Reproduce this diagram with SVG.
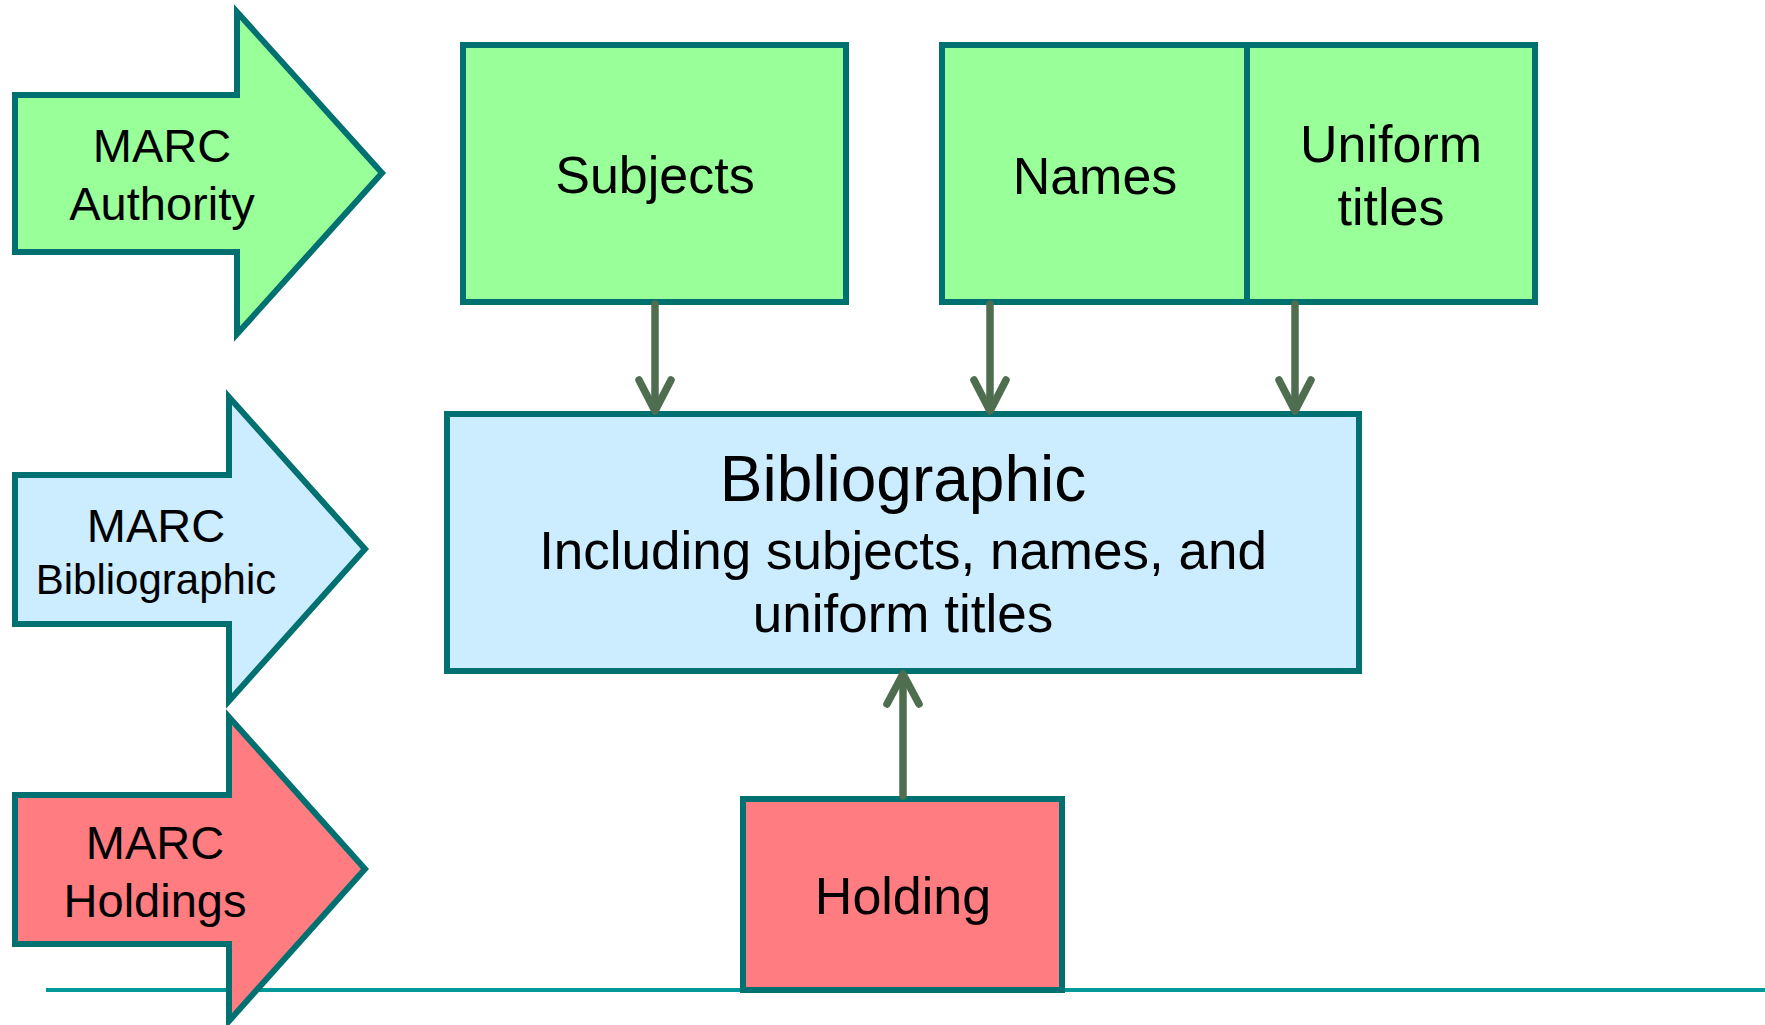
<svg xmlns="http://www.w3.org/2000/svg" width="1765" height="1025" viewBox="0 0 1765 1025">
<style>
.shape{stroke:#007070;stroke-width:6;stroke-linejoin:miter}
.green{fill:#99FF99}
.blue{fill:#CCECFF}
.red{fill:#FF7C80}
text{font-family:"Liberation Sans",Arial,sans-serif;fill:#000;text-anchor:middle}
.conn{stroke:#4F6E4F;stroke-width:7.5;fill:none;stroke-linecap:round;stroke-linejoin:round}
</style>
<rect x="0" y="0" width="1765" height="1025" fill="#FFFFFF"/>
<g id="baseline">
<line x1="46" y1="990" x2="1765" y2="990" stroke="#009999" stroke-width="4"/>
</g>
<g id="marc-authority">
<polygon class="shape green" points="15,95 237,95 237,12 382,173 237,334 237,252 15,252"/>
<text x="162" y="162" font-size="47">MARC</text>
<text x="162" y="220" font-size="47">Authority</text>
</g>
<g id="marc-bibliographic">
<polygon class="shape blue" points="15,475 229,475 229,397 365,549 229,701 229,624 15,624"/>
<text x="156" y="542" font-size="47">MARC</text>
<text x="156" y="594" font-size="42">Bibliographic</text>
</g>
<g id="marc-holdings">
<polygon class="shape red" points="15,795 229,795 229,717 365,869 229,1021 229,944 15,944"/>
<text x="155" y="859" font-size="47">MARC</text>
<text x="155" y="917" font-size="47">Holdings</text>
</g>
<g id="subjects">
<rect class="shape green" x="463" y="45" width="383" height="257"/>
<text x="655" y="193" font-size="52">Subjects</text>
</g>
<g id="names">
<rect class="shape green" x="942" y="45" width="305" height="257"/>
<text x="1095" y="194" font-size="52">Names</text>
</g>
<g id="uniform-titles">
<rect class="shape green" x="1247" y="45" width="288" height="257"/>
<text x="1391" y="162" font-size="52">Uniform</text>
<text x="1391" y="225" font-size="52">titles</text>
</g>
<g id="bibliographic">
<rect class="shape blue" x="447" y="414" width="912" height="257"/>
<text x="903" y="501" font-size="64">Bibliographic</text>
<text x="903" y="569" font-size="53">Including subjects, names, and</text>
<text x="903" y="632" font-size="53">uniform titles</text>
</g>
<g id="holding">
<rect class="shape red" x="743" y="799" width="319" height="191"/>
<text x="903" y="914" font-size="52">Holding</text>
</g>
<g id="connectors">
<line class="conn" x1="655" y1="304" x2="655" y2="410"/>
<polyline class="conn" points="639,380 655,411 671,380"/>
<line class="conn" x1="990" y1="304" x2="990" y2="410"/>
<polyline class="conn" points="974,380 990,411 1006,380"/>
<line class="conn" x1="1295" y1="304" x2="1295" y2="410"/>
<polyline class="conn" points="1279,380 1295,411 1311,380"/>
<line class="conn" x1="903" y1="796" x2="903" y2="675"/>
<polyline class="conn" points="887,704 903,674 919,704"/>
</g>
</svg>
